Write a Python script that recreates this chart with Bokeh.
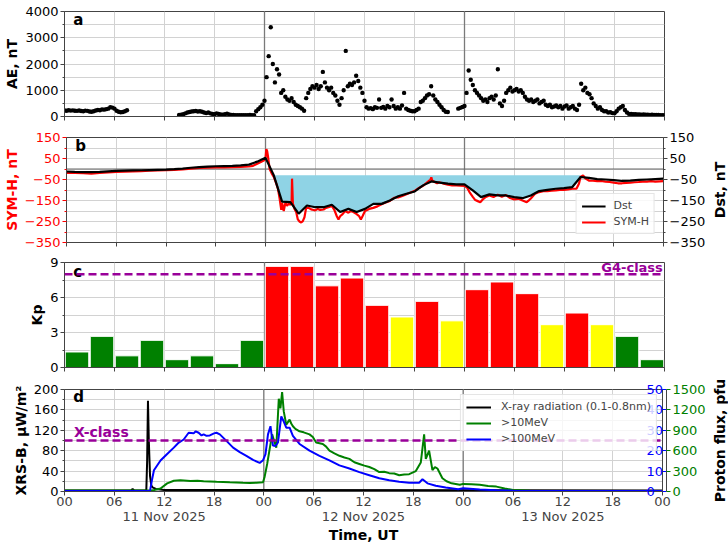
import math
import numpy as np
from bokeh.plotting import figure
from bokeh.layouts import column, row
from bokeh.models import Range1d, LinearAxis, FixedTicker, Span, Label, Legend, LegendItem
from bokeh.embed import file_html
from bokeh.resources import INLINE

# ------------------------------------------------------------------ data
# time axis: hours since 00 UT 11 Nov 2025
time_ticks = [0, 6, 12, 18, 24, 30, 36, 42, 48, 54, 60, 66, 72]
time_tick_labels = ["00", "06", "12", "18", "00", "06", "12", "18", "00", "06", "12", "18", "00"]
day_label_hours = [12, 36, 60]
day_labels = ["11 Nov 2025", "12 Nov 2025", "13 Nov 2025"]

# (a) AE index, nT, every 15 min (None = no data)
ae_step_h = 0.25
ae_nT = [
    230, 220, 240, 225,  235, 220, 215, 230,  210, 200, 225, 215,  190, 180, 200, 230,
    250, 240, 270, 260,  280, 300, 350, 340,  300, 220, 180, 160,  170, 200, 240, None,
    None, None, None, None,  None, None, None, None,  None, None, None, None,
    None, None, None, None,  None, None, None, None,  None, None, None, 60,
    70, 90, 120, 150,  170, 190, 200, 210,  190, 200, 180, 150,  130, 150, 120, 100,
    90, 120, 100, 80,  70, 90, 110, 80,  60, 55, 50, 50,  50, 50, 45, 50,
    50, 55, 50, 45,  200, 280, 350, 450,
    600, 1500, 2300, 3400,  2000, 1300, 1800, 1600,  900, 1000, 750, 650,  600, 700, 550, 450,
    400, 350, 300, 220,  700, 900, 1050, 1150,  1100, 1200, 1050, 1150,  1700, 1300, 1100, 1000,
    1100, 900, 800, 600,  450, 700, 1000, 2500,  1150, 1250, 1200, 1300,  1550, 1350, 1100, 900,
    600, 350, 300, 320,  280, 350, 330, 650,  330, 360, 300, 400,  350, 650, 400, 300,
    350, 300, 420, 900,  300, 250, 220, 200,  200, 250, 300, 550,  600, 700, 800, 850,
    1150, 800, 650, 550,  450, 350, 250, 180,  170, None, None, None,  None, 300, 330, 360,
    400, 900, 1750, 1400,  1200, 1000, 900, 800,  700, 600, 650, 550,  700, 750, 650, 800,
    1800, 500, 400, 600,  900, 1000, 1100, 950,  1000, 1050, 950, 1000,  900, 750, 650, 600,
    650, 550, 600, 650,  500, 550, 600, 450,  400, 450, 350, 380,  420, 350, 400, 300,
    380, 420, 300, 350,  400, 300, 250, 450,  1250, 1000, 1100, 900,  850, 700, 500, 400,
    300, 350, 250, 200,  200, 150, 160, 130,  120, 200, 300, 350,  400, 250, 150, 100,
    100, 90, 90, 80,  80, 70, 80, 70,  70, 60, 70, 60,  60, 60, 50, 50,
    50,
]

# (b) Dst, hourly, nT
dst_hours = list(range(0, 73))
dst_nT = [-12, -14, -15, -15, -14, -11, -9, -8, -7, -6, -5, -4, -3, -1, 2, 6, 9, 11, 13, 14,
          15, 17, 21, 35, 53, -30, -155, -158, -213, -174, -182, -182, -170, -205, -190, -205,
          -190, -166, -166, -150, -130, -118, -107, -78, -59, -65, -70, -73, -73, -102, -134,
          -121, -126, -126, -134, -139, -126, -105, -99, -94, -91, -86, -38, -42, -48, -50,
          -53, -57, -55, -52, -50, -48, -46]

# (b) SYM-H, nT
symh_hours = [0, 1, 2, 3, 4, 5, 6, 7, 8, 9, 10, 11, 12, 13, 14, 15, 16, 17, 18, 19, 20, 21, 22,
              22.5, 23, 23.5, 23.8, 24.0, 24.1, 24.2, 24.3, 24.5, 24.8, 25.0, 25.3, 25.5, 25.7,
              25.9, 26.0, 26.2, 26.4, 26.6, 26.8, 27.0, 27.15, 27.2, 27.3, 27.5, 27.7, 27.9,
              28.1, 28.3, 28.5, 28.7, 28.9, 29.2, 29.5, 29.8, 30.0, 30.3, 30.6, 31.0, 31.3,
              31.6, 32.0, 32.3, 32.6, 32.8, 33.0, 33.3, 33.6, 34.0, 34.3, 34.6, 35.0, 35.3,
              35.5, 35.7, 36.0, 36.5, 37.0, 37.5, 38.0, 38.5, 39.0, 39.5, 40.0, 40.5, 41.0,
              41.5, 42.0, 42.5, 43.0, 43.5, 43.9, 44.0, 44.1, 44.4, 44.7, 45.0, 45.5, 46.0,
              46.5, 47.0, 47.5, 48.0, 48.3, 48.6, 49.0, 49.3, 49.6, 49.9, 50.2, 50.5, 51.0,
              51.5, 52.0, 52.5, 53.0, 53.5, 54.0, 54.5, 55.0, 55.5, 55.8, 56.0, 56.5, 57.0,
              57.5, 58.0, 58.5, 59.0, 59.5, 60.0, 60.5, 61.0, 61.5, 61.8, 62.0, 62.3, 62.6,
              63.0, 63.5, 64.0, 64.5, 65.0, 65.5, 66.0, 66.5, 67.0, 67.5, 68.0, 68.5, 69.0,
              69.5, 70.0, 70.5, 71.0, 71.5, 72.0]
symh_nT = [-18, -19, -20, -22, -19, -16, -14, -13, -12, -10, -8, -7, -6, -4, -2, 2, 5, 7, 8, 8,
           9, 10, 12, 15, 25, 35, 40, 50, 95, 85, 60, 0, -25, -38, -70, -94, -140, -195, -160,
           -200, -160, -175, -165, -170, -160, -46, -165, -190, -205, -240, -250, -255, -248,
           -230, -185, -185, -192, -195, -197, -190, -195, -193, -185, -182, -176, -195, -225,
           -240, -225, -215, -200, -208, -200, -205, -215, -225, -240, -225, -200, -190, -185,
           -178, -168, -160, -152, -137, -135, -128, -120, -112, -104, -90, -80, -63, -50, -40,
           -55, -62, -68, -63, -70, -75, -78, -78, -79, -80, -88, -110, -133, -148, -153, -158,
           -145, -135, -126, -133, -122, -132, -124, -138, -145, -142, -150, -158, -148, -140,
           -118, -110, -106, -105, -103, -102, -99, -99, -97, -94, -94, -70, -38, -30, -46,
           -55, -56, -58, -57, -60, -62, -65, -68, -68, -66, -65, -63, -62, -60, -60, -58,
           -60, -59, -58]
dst_fill_level = -30
dst_fill_window = (24, 62)

# (c) Kp, 3-hour values
kp_bin_h = 3
kp = [1.33, 2.67, 1.0, 2.33, 0.67, 1.0, 0.33, 2.33,
      8.67, 8.67, 7.0, 7.67, 5.33, 4.33, 5.67, 4.0,
      6.67, 7.33, 6.33, 3.67, 4.67, 3.67, 2.67, 0.67]
kp_g4 = 8

# (d) GOES XRS-B, uW/m^2
xray_hours = [0, 8.0, 8.2, 8.4, 9.85, 9.95, 10.05, 10.15, 10.3, 10.45, 10.6, 11, 12, 72]
xray_flux = [2, 2, 5, 2, 2, 60, 178, 100, 30, 12, 8, 5, 3, 2]
xray_xclass = 100

# (d) proton flux >10 MeV, pfu
p10_hours = [0, 10.5, 10.8, 11.56, 12.36, 13.16, 13.96, 15.15, 16.0, 16.75, 17.5, 18.3, 19.1,
             19.9, 20.7, 21.5, 22.3, 23.1, 23.9, 24.1, 24.4, 24.7, 25.0, 25.3, 25.5, 25.7,
             25.8, 26.0, 26.2, 26.4, 26.7, 26.9, 27.1, 27.3, 27.5, 27.8, 28.3, 28.8, 29.5,
             29.9, 30.3, 31.1, 31.5, 31.9, 32.5, 33.1, 33.7, 34.3, 34.9, 35.5, 36.1, 36.7,
             37.3, 37.9, 38.5, 39.1, 39.7, 40.3, 40.9, 41.5, 42.3, 42.9, 43.3, 43.5, 43.9,
             44.3, 44.6, 44.9, 45.5, 46.0, 46.6, 47.6, 48, 49, 50, 51, 52, 53, 54, 56, 60, 72]
p10_pfu = [15, 15, 22, 45, 120, 158, 165, 154, 158, 150, 148, 143, 140, 135, 132, 128, 126, 128,
           135, 218, 405, 623, 840, 720, 645, 1125, 1365, 1222, 1462, 1178, 982, 1020, 1058,
           1000, 960, 920, 885, 870, 840, 800, 720, 698, 660, 600, 560, 525, 500, 480, 430, 405,
           380, 360, 330, 285, 290, 270, 265, 240, 250, 255, 300, 428, 840, 480, 600, 315, 360,
           338, 195, 150, 120, 98, 112, 105, 98, 82, 72, 45, 22, 10, 8, 7]

# (d) proton flux >100 MeV, pfu
p100_hours = [0, 10.3, 10.5, 10.77, 11.56, 12.36, 13.16, 13.76, 14.35, 14.95, 15.55, 15.8,
              16.15, 16.5, 16.75, 17.1, 17.5, 18.0, 18.3, 18.7, 19.5, 20.3, 21.1, 21.9, 22.7,
              23.5, 23.9, 24.2, 24.5, 24.8, 25.1, 25.4, 25.7, 26.1, 26.4, 26.7, 27.1, 27.5,
              28.3, 29.5, 30.7, 31.9, 33.1, 34.3, 35.5, 36.7, 37.9, 39.1, 40.3, 41.5, 42.7,
              43.1, 43.7, 44.7, 45.9, 47.4, 48, 50, 52, 54, 72]
p100_pfu = [0.3, 0.3, 5, 10.4, 15.2, 18.4, 21.5, 24, 25.5, 28.8, 28.5, 29.5, 28.8, 27.5, 28,
            27.3, 27.5, 28.5, 28.8, 28, 24.8, 21.5, 19.3, 17.5, 15.5, 14, 15.3, 18.3, 28, 32,
            22.5, 22.3, 24, 36.8, 34.3, 31.3, 31.3, 27.3, 23.3, 20, 17.5, 15.3, 12.8, 11.3,
            9.5, 8, 6.5, 5.5, 4.8, 4.3, 4.3, 6, 4, 2.8, 2, 1.1, 1.6, 1, 0.6, 0.4, 0.3]
p100_ticks = [0, 10, 20, 30, 40, 50]
p10_ticks = [0, 300, 600, 900, 1200, 1500]

# ------------------------------------------------------------------ style
FONT = "DejaVu Sans"
SPINE = "#444444"
GRID = "#d2d2d2"
DAYLINE = "#7a7a7a"
PURPLE = "#990099"
W = 728
LB, RB = 64, 64          # borders of panels without a right-hand axis
TW = 20                  # width of the strip holding a right-hand axis title
WM = W - TW              # width of panels that carry such a strip
RBM = WM - (W - RB)      # their right border, so that all frames end at the same x
TICK_FS = "13px"
LAB_FS = "14px"


def minus(v):
    return ("%g" % v).replace("-", "\u2212")


def base_fig(h, top, bottom, y0, y1, labels=False, width=W, rb=RB):
    p = figure(width=width, height=h, x_range=Range1d(0, 72), y_range=Range1d(y0, y1),
               output_backend="svg", toolbar_location=None,
               min_border_left=LB, min_border_right=rb,
               min_border_top=top, min_border_bottom=bottom)
    p.background_fill_color = "white"
    p.border_fill_color = "white"
    p.outline_line_color = SPINE
    p.outline_line_width = 1
    xa = p.xaxis[0]
    if labels:
        xa.ticker = FixedTicker(ticks=time_ticks)
        xa.major_label_overrides = {t: s for t, s in zip(time_ticks, time_tick_labels)}
        xa.major_label_text_font = FONT
        xa.major_label_text_font_size = TICK_FS
        xa.major_label_standoff = 1
    else:
        # tick marks only (no labels) on the upper panels
        xa.ticker = FixedTicker(ticks=[], minor_ticks=time_ticks)
    xa.major_tick_out = 4
    xa.major_tick_in = 0
    xa.minor_tick_out = 4 if not labels else 0
    xa.minor_tick_in = 0
    xa.axis_line_color = SPINE
    xa.major_tick_line_color = SPINE
    xa.minor_tick_line_color = SPINE
    p.xgrid.ticker = FixedTicker(ticks=time_ticks)
    p.xgrid.grid_line_color = GRID
    for d in (24, 48):
        p.add_layout(Span(location=d, dimension="height", line_color=DAYLINE,
                          line_width=1.3, level="underlay"))
    return p


def set_title(ax, label, color="black"):
    ax.axis_label = label
    ax.axis_label_text_font = FONT
    ax.axis_label_text_font_size = LAB_FS
    ax.axis_label_text_font_style = "bold"
    ax.axis_label_text_color = color
    ax.axis_label_standoff = 2
    ax.axis_label_text_line_height = 1.0


def style_y(ax, ticks, minor, label=None, color="black", tickcolor=SPINE, overrides=None):
    ax.ticker = FixedTicker(ticks=ticks, minor_ticks=minor)
    ax.major_tick_out = 4
    ax.major_tick_in = 0
    ax.minor_tick_out = 2
    ax.minor_tick_in = 0
    ax.axis_line_color = SPINE
    ax.major_tick_line_color = tickcolor
    ax.minor_tick_line_color = tickcolor
    ax.major_label_text_font = FONT
    ax.major_label_text_font_size = TICK_FS
    ax.major_label_text_color = color
    ax.major_label_standoff = 2
    if overrides:
        ax.major_label_overrides = overrides
    if label:
        set_title(ax, label, color)


def title_strip(h, top, bottom, label):
    """narrow strip right of a panel: its left-axis title reads bottom-to-top, centred"""
    t = figure(width=TW, height=h, x_range=Range1d(0, 1), y_range=Range1d(0, 1),
               output_backend="svg", toolbar_location=None, x_axis_location=None,
               min_border_left=TW - 4, min_border_right=0,
               min_border_top=top, min_border_bottom=bottom)
    t.outline_line_color = None
    t.background_fill_color = "white"
    t.border_fill_color = "white"
    t.xgrid.visible = False
    t.ygrid.visible = False
    ya = t.yaxis[0]
    ya.ticker = FixedTicker(ticks=[])
    ya.axis_line_color = None
    ya.major_tick_out = 0
    ya.minor_tick_out = 0
    ya.major_label_standoff = 0
    set_title(ya, label)
    ya.axis_label_standoff = 0
    return t


def ygrid(p, ticks, minor):
    p.ygrid.ticker = FixedTicker(ticks=ticks, minor_ticks=minor)
    p.ygrid.grid_line_color = GRID
    p.ygrid.minor_grid_line_color = GRID


def panel_tag(p, x, y, txt):
    p.add_layout(Label(x=x, y=y, text=txt, text_font=FONT, text_font_size="15px",
                       text_font_style="bold", text_baseline="middle", text_color="black"))


# ------------------------------------------------------------------ (a) AE
pa = base_fig(126, 11, 10, 0, 4000)
ae_vals = np.array(ae_nT, dtype=float)
ae_hours = np.arange(len(ae_vals)) * ae_step_h
ok = ~np.isnan(ae_vals)
pa.scatter(ae_hours[ok], ae_vals[ok], size=4.4, color="black", line_color=None)
ticks_a = [0, 1000, 2000, 3000, 4000]
minor_a = [500, 1500, 2500, 3500]
style_y(pa.yaxis[0], ticks_a, minor_a, "AE, nT")
ygrid(pa, ticks_a, minor_a)
panel_tag(pa, 1.05, 3680, "a")

# ------------------------------------------------------------------ (b) SYM-H / Dst
pb = base_fig(126, 11, 10, -350, 150, width=WM, rb=RBM)
ticks_b = [-350, -250, -150, -50, 50, 150]
minor_b = [-300, -200, -100, 0, 100]
ov_b = {t: minus(t) for t in ticks_b}
dh = np.array(dst_hours, dtype=float)
dv = np.array(dst_nT, dtype=float)
win = (dh >= dst_fill_window[0]) & (dh <= dst_fill_window[1])
pb.varea(x=dh[win], y1=np.full(win.sum(), dst_fill_level),
         y2=np.minimum(dv[win], dst_fill_level), fill_color="#8fd3e5")
pb.add_layout(Span(location=0, dimension="width", line_color="#666666", line_width=1.2,
                   level="underlay"))
r_sym = pb.line(symh_hours, symh_nT, line_color="#ff0000", line_width=2.2)
r_dst = pb.line(dst_hours, dst_nT, line_color="black", line_width=2.2)
style_y(pb.yaxis[0], ticks_b, minor_b, "SYM-H, nT", color="#ff0000", tickcolor="#ff0000",
        overrides=ov_b)
ax_dst = LinearAxis()
pb.add_layout(ax_dst, "right")
style_y(ax_dst, ticks_b, minor_b, overrides=ov_b)
ygrid(pb, ticks_b, minor_b)
leg_b = Legend(items=[LegendItem(label="Dst", renderers=[r_dst]),
                      LegendItem(label="SYM-H", renderers=[r_sym])],
               location="bottom_right", label_text_font=FONT, label_text_font_size="11px",
               glyph_width=24, glyph_height=12, label_standoff=8, spacing=3, padding=5,
               margin=8, border_line_color="#cccccc", background_fill_alpha=0.85)
pb.add_layout(leg_b)
panel_tag(pb, 1.05, 108, "b")
tb = title_strip(126, 11, 10, "Dst, nT")

# ------------------------------------------------------------------ (c) Kp
pc = base_fig(125, 10, 10, 0, 9)
kp_mid = np.arange(len(kp)) * kp_bin_h + kp_bin_h / 2
kp_col = ["#ff0000" if k >= 4.5 else ("#ffff00" if k >= 3.5 else "#008000") for k in kp]
pc.vbar(x=kp_mid, top=kp, width=kp_bin_h * 0.94, fill_color=kp_col, line_color="white",
        line_width=1)
panel_tag(pc, 1.05, 8.17, "c")
pc.add_layout(Span(location=kp_g4, dimension="width", line_color=PURPLE, line_width=2.5,
                   line_dash="8 4"))
ticks_c = [0, 3, 6, 9]
minor_c = [1.5, 4.5, 7.5]
style_y(pc.yaxis[0], ticks_c, minor_c, "Kp")
ygrid(pc, ticks_c, minor_c)
pc.add_layout(Label(x=71.8, y=8.6, text="G4-class", text_font=FONT, text_font_size="13px",
                    text_font_style="bold", text_color=PURPLE, text_align="right",
                    text_baseline="middle"))

# ------------------------------------------------------------------ (d) X-ray / protons
pd_ = base_fig(168, 12, 52, 0, 200, labels=True, width=WM, rb=RBM)
pd_.extra_y_ranges = {"p100": Range1d(0, 50), "p10": Range1d(0, 1500)}
r_x = pd_.line(xray_hours, xray_flux, line_color="black", line_width=2)
r_10 = pd_.line(p10_hours, p10_pfu, line_color="#008000", line_width=2, y_range_name="p10")
r_100 = pd_.line(p100_hours, p100_pfu, line_color="#0000ff", line_width=2,
                 y_range_name="p100")
pd_.add_layout(Span(location=xray_xclass, dimension="width", line_color=PURPLE,
                    line_width=2.5, line_dash="8 4"))
ticks_d = [0, 40, 80, 120, 160, 200]
minor_d = [20, 60, 100, 140, 180]
style_y(pd_.yaxis[0], ticks_d, minor_d, "XRS-B, \u03bcW/m\u00b2")
ygrid(pd_, ticks_d, minor_d)

ax_b = LinearAxis(y_range_name="p100")
pd_.add_layout(ax_b, "right")
style_y(ax_b, p100_ticks, [], color="#0000ff", tickcolor="#0000ff")
ax_b.major_label_standoff = -20
ax_g = LinearAxis(y_range_name="p10")
pd_.add_layout(ax_g, "right")
style_y(ax_g, p10_ticks, [], color="#008000", tickcolor="#008000")

# second x axis carrying the calendar dates and the axis title
ax_dates = LinearAxis(ticker=FixedTicker(ticks=day_label_hours),
                      major_label_overrides={h: s for h, s in zip(day_label_hours, day_labels)})
pd_.add_layout(ax_dates, "below")
ax_dates.axis_line_color = None
ax_dates.major_tick_out = 0
ax_dates.major_tick_in = 0
ax_dates.minor_tick_out = 0
ax_dates.minor_tick_in = 0
ax_dates.major_label_standoff = 0
ax_dates.major_label_text_font = FONT
ax_dates.major_label_text_font_size = TICK_FS
set_title(ax_dates, "Time, UT")
ax_dates.axis_label_standoff = 0

leg_d = Legend(items=[LegendItem(label="X-ray radiation (0.1-0.8nm)", renderers=[r_x]),
                      LegendItem(label=">10MeV", renderers=[r_10]),
                      LegendItem(label=">100MeV", renderers=[r_100])],
               location="top_right", label_text_font=FONT, label_text_font_size="11px",
               glyph_width=25, glyph_height=12, label_standoff=10, spacing=3, padding=5,
               margin=5, border_line_color="#cccccc", background_fill_alpha=0.8)
pd_.add_layout(leg_d)
pd_.add_layout(Label(x=1.15, y=116, text="X-class", text_font=FONT, text_font_size="14px",
                     text_font_style="bold", text_color=PURPLE, text_baseline="middle"))
panel_tag(pd_, 1.05, 186, "d")
td = title_strip(168, 12, 52, "Proton flux, pfu")

layout = column(pa, row(pb, tb, spacing=0), pc, row(pd_, td, spacing=0), spacing=0)
open("out.html", "w").write(file_html(layout, INLINE))
